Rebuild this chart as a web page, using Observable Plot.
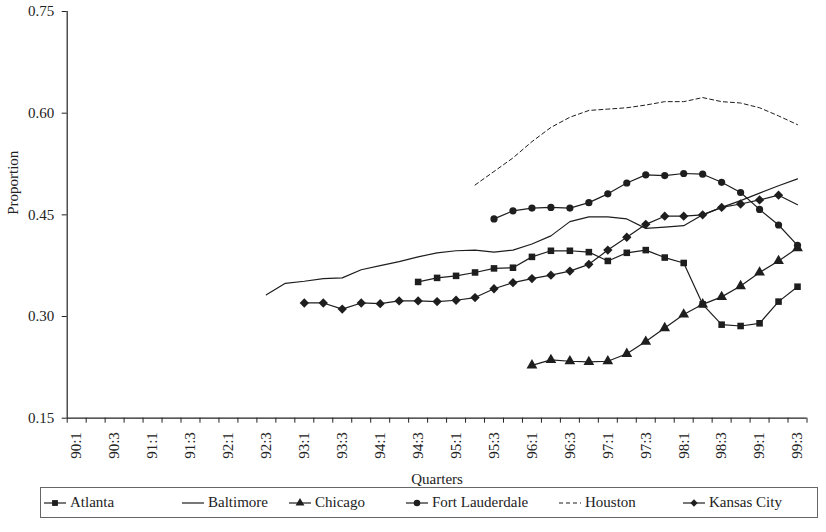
<!DOCTYPE html>
<html><head><meta charset="utf-8">
<script src="https://cdn.jsdelivr.net/npm/d3@7"></script>
<script src="https://cdn.jsdelivr.net/npm/@observablehq/plot@0.6"></script>
<style>
body{margin:0;background:#fff;font-family:"Liberation Serif","Times New Roman",serif;}
#wrap{position:relative;width:826px;height:532px;overflow:hidden;}
#legend{position:absolute;left:40px;top:487px;width:778px;height:31px;border:1px solid #666;box-sizing:border-box;font-size:15px;color:#222;}
.item{position:absolute;top:0;height:29px;display:flex;align-items:center;white-space:nowrap;}
.item svg{margin-right:3px;}
</style></head><body><div id="wrap"><div id="chart"></div><div id="legend"></div></div>
<script>
const quarters = ["90:1","90:2","90:3","90:4","91:1","91:2","91:3","91:4","92:1","92:2","92:3","92:4",
  "93:1","93:2","93:3","93:4","94:1","94:2","94:3","94:4","95:1","95:2","95:3","95:4",
  "96:1","96:2","96:3","96:4","97:1","97:2","97:3","97:4","98:1","98:2","98:3","98:4",
  "99:1","99:2","99:3"];
const yTicks = [0.15, 0.30, 0.45, 0.60, 0.75];

const atlantaStart = "94:3";
const atlanta = [0.351,0.357,0.360,0.365,0.371,0.372,0.388,0.397,0.397,0.395,0.382,0.394,0.398,0.387,0.379,0.318,0.288,0.286,0.290,0.322,0.344];
const baltimoreStart = "92:3";
const baltimore = [0.332,0.349,0.352,0.356,0.357,0.369,0.375,0.381,0.388,0.394,0.397,0.398,0.395,0.398,0.407,0.419,0.440,0.447,0.447,0.444,0.430,0.432,0.434,0.450,0.461,0.471,0.482,0.493,0.503];
const chicagoStart = "96:1";
const chicago = [0.228,0.236,0.234,0.233,0.234,0.245,0.263,0.283,0.303,0.318,0.329,0.345,0.365,0.382,0.401];
const fortLauderdaleStart = "95:3";
const fortLauderdale = [0.444,0.456,0.460,0.461,0.460,0.468,0.481,0.497,0.509,0.508,0.511,0.510,0.498,0.483,0.458,0.435,0.405];
const houstonStart = "95:2";
const houston = [0.494,0.514,0.534,0.558,0.579,0.594,0.604,0.606,0.608,0.612,0.617,0.617,0.623,0.617,0.615,0.608,0.596,0.583];
const kansasCityStart = "93:1";
const kansasCity = [0.320,0.320,0.311,0.320,0.319,0.323,0.323,0.322,0.324,0.328,0.341,0.350,0.356,0.361,0.367,0.377,0.398,0.417,0.436,0.448,0.448,0.450,0.461,0.466,0.472,0.479,0.465];
const unmarked = [["Kansas City","99:3"]];

const seriesDefs = [
  {name:"Atlanta", start:atlantaStart, values:atlanta, symbol:"square", dash:null},
  {name:"Baltimore", start:baltimoreStart, values:baltimore, symbol:null, dash:null},
  {name:"Chicago", start:chicagoStart, values:chicago, symbol:"triangle", dash:null},
  {name:"Fort Lauderdale", start:fortLauderdaleStart, values:fortLauderdale, symbol:"circle", dash:null},
  {name:"Houston", start:houstonStart, values:houston, symbol:null, dash:"4,3"},
  {name:"Kansas City", start:kansasCityStart, values:kansasCity, symbol:"diamond2", dash:null}
];

const rows = [];
for (const s of seriesDefs) {
  const i0 = quarters.indexOf(s.start);
  s.values.forEach((v, k) => {
    const q = quarters[i0 + k];
    const isUnmarked = unmarked.some(([n, uq]) => n === s.name && uq === q);
    rows.push({series: s.name, q, i: i0 + k, value: v, symbol: s.symbol, marked: !!s.symbol && !isUnmarked});
  });
}

const ink = "#1e1e1e";
const marks = [];
for (const s of seriesDefs) {
  const data = rows.filter(d => d.series === s.name);
  marks.push(Plot.line(data, {x: "i", y: "value", stroke: ink, strokeWidth: s.dash ? 1 : 1.2, strokeDasharray: s.dash || undefined}));
}
for (const s of seriesDefs.filter(s => s.symbol)) {
  const data = rows.filter(d => d.series === s.name && d.marked);
  const r = s.symbol === "triangle" ? 4 : s.symbol === "diamond2" ? 4.2 : s.symbol === "square" ? 3.7 : 3.6;
  marks.push(Plot.dot(data, {x: "i", y: "value", symbol: () => s.symbol, r, fill: ink, stroke: "none"}));
}

const labelIdx = d3.range(0, quarters.length, 2);
const boundaries = d3.range(-0.5, quarters.length, 1);

const chart = Plot.plot({
  width: 826,
  height: 486,
  marginLeft: 66.7,
  marginRight: 19.5,
  marginTop: 11,
  marginBottom: 68.3,
  style: {fontFamily: '"Liberation Serif", "Times New Roman", serif', fontSize: "15px", color: "#222", background: "white"},
  x: {type: "linear", domain: [-0.5, quarters.length - 0.5]},
  y: {domain: [0.15, 0.75]},
  symbol: {type: "identity"},
  marks: [
    Plot.axisY({ticks: yTicks, tickFormat: d3.format(".2f"), tickSize: 5, tickPadding: 8, label: null, stroke: "#222", fontSize: 15}),
    Plot.axisX({ticks: boundaries, tickSize: 5, tickFormat: () => "", label: null, stroke: "#222"}),
    Plot.axisX({ticks: labelIdx, tickSize: 0, tickPadding: 14, tickRotate: -90, tickFormat: i => quarters[i], label: null, fontSize: 15}),
    Plot.ruleX([-0.5], {stroke: "#222", strokeWidth: 1.2}),
    Plot.ruleY([0.15], {stroke: "#222", strokeWidth: 1.2}),
    Plot.text(["Proportion"], {frameAnchor: "left", dx: -54, rotate: -90, fontSize: 15, fill: "#222"}),
    Plot.text(["Quarters"], {frameAnchor: "bottom", dy: 66, fontSize: 15, fill: "#222"}),
    ...marks
  ]
});
document.getElementById("chart").appendChild(chart);

// legend
const legend = document.getElementById("legend");
const legendLeft = [2, 140, 247, 364, 517, 641];
seriesDefs.forEach((s, k) => {
  const div = document.createElement("div");
  div.className = "item";
  div.style.left = legendLeft[k] + "px";
  const svg = d3.create("svg").attr("width", 24).attr("height", 12);
  svg.append("line").attr("x1", 1).attr("x2", 23).attr("y1", 6).attr("y2", 6)
    .attr("stroke", ink).attr("stroke-width", 1.2).attr("stroke-dasharray", s.dash);
  if (s.symbol) {
    const sym = {square: d3.symbolSquare, triangle: d3.symbolTriangle, circle: d3.symbolCircle, diamond2: d3.symbolDiamond2}[s.symbol];
    svg.append("path").attr("transform", "translate(12,6)").attr("d", d3.symbol(sym, 34)()).attr("fill", ink);
  }
  div.appendChild(svg.node());
  const span = document.createElement("span");
  span.textContent = s.name;
  div.appendChild(span);
  legend.appendChild(div);
});
</script></body></html>
